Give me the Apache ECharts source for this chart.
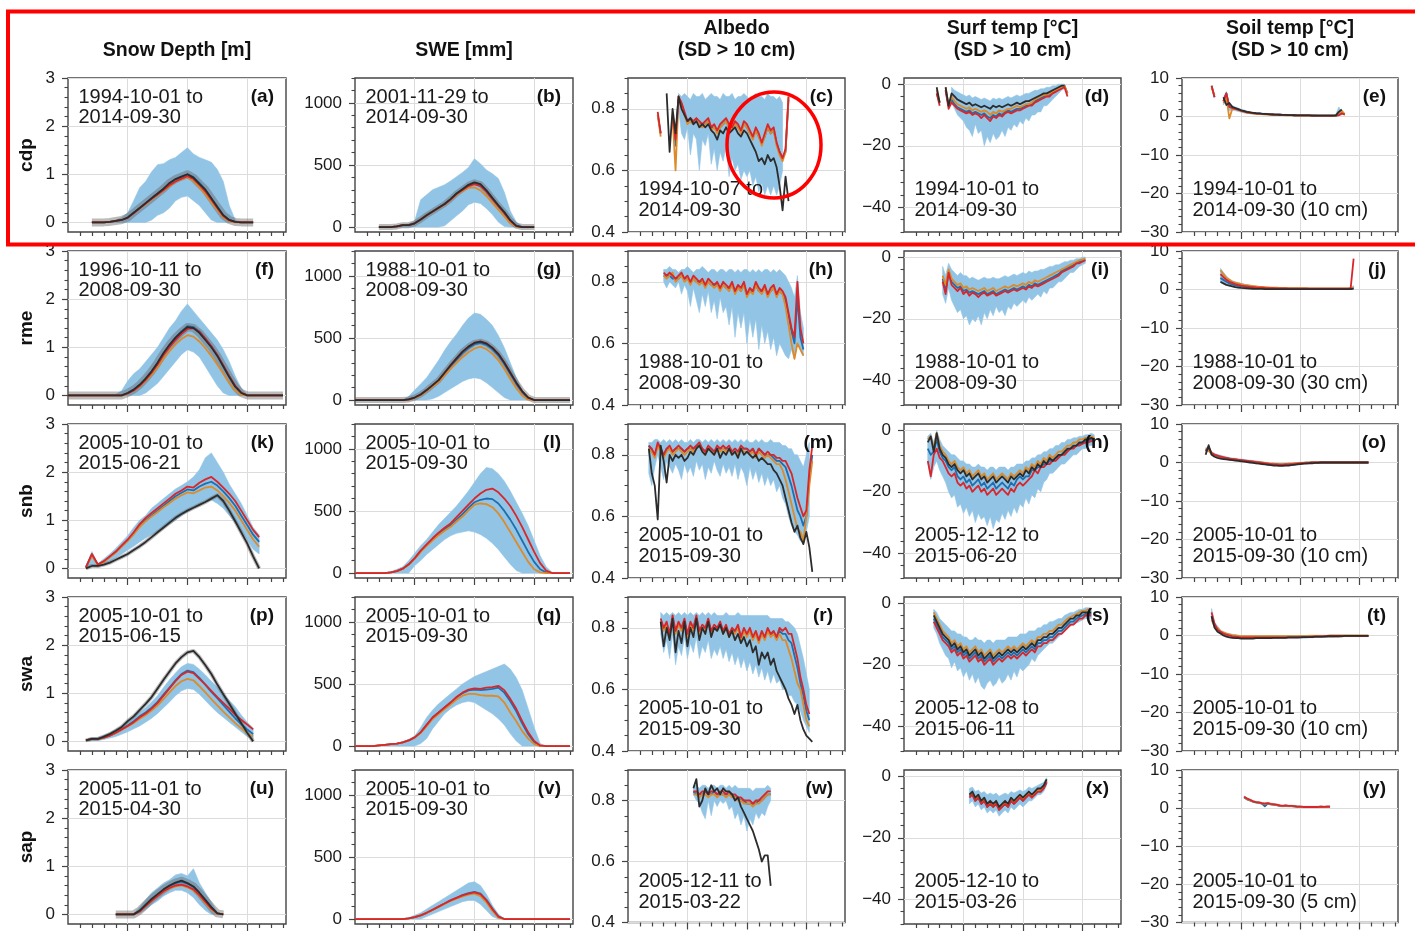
<!DOCTYPE html>
<html><head><meta charset="utf-8">
<script src="https://cdn.jsdelivr.net/npm/echarts@6/dist/echarts.min.js"></script>
<style>html,body{margin:0;padding:0;background:#fff}#c{width:1415px;height:931px}</style>
</head><body><div id="c"></div><script>
// ---------------- labels ----------------
const colTitles = ['Snow Depth [m]', 'SWE [mm]', 'Albedo\n(SD > 10 cm)', 'Surf temp [°C]\n(SD > 10 cm)', 'Soil temp [°C]\n(SD > 10 cm)'];
const sites = ['cdp', 'rme', 'snb', 'swa', 'sap'];
const letters = ['a','b','c','d','e','f','g','h','i','j','k','l','m','n','o','p','q','r','s','t','u','v','w','x','y'];
const periods = [
 '1994-10-01 to\n2014-09-30','2001-11-29 to\n2014-09-30','1994-10-07 to\n2014-09-30','1994-10-01 to\n2014-09-30','1994-10-01 to\n2014-09-30 (10 cm)',
 '1996-10-11 to\n2008-09-30','1988-10-01 to\n2008-09-30','1988-10-01 to\n2008-09-30','1988-10-01 to\n2008-09-30','1988-10-01 to\n2008-09-30 (30 cm)',
 '2005-10-01 to\n2015-06-21','2005-10-01 to\n2015-09-30','2005-10-01 to\n2015-09-30','2005-12-12 to\n2015-06-20','2005-10-01 to\n2015-09-30 (10 cm)',
 '2005-10-01 to\n2015-06-15','2005-10-01 to\n2015-09-30','2005-10-01 to\n2015-09-30','2005-12-08 to\n2015-06-11','2005-10-01 to\n2015-09-30 (10 cm)',
 '2005-11-01 to\n2015-04-30','2005-10-01 to\n2015-09-30','2005-12-11 to\n2015-03-22','2005-12-10 to\n2015-03-26','2005-10-01 to\n2015-09-30 (5 cm)'
];
// axis ticks (x = day of water year)
const xMajor = [100, 200, 300];
const xMinor = [20,40,60,80,120,140,160,180,220,240,260,280,320,340,360];
const yRange = [[-0.2, 3], [-40, 1200], [0.4, 0.9], [-48, 2], [-30, 10]];
const yMajor = [[0,1,2,3], [0,500,1000], [0.4,0.6,0.8], [-40,-20,0], [-30,-20,-10,0,10]];
const yMinor = [
 [0.2,0.4,0.6,0.8,1.2,1.4,1.6,1.8,2.2,2.4,2.6,2.8],
 [100,200,300,400,600,700,800,900,1100,1200],
 [0.45,0.5,0.55,0.65,0.7,0.75,0.85,0.9],
 [-48,-44,-36,-32,-28,-24,-16,-12,-8,-4],
 [-28,-26,-24,-22,-18,-16,-14,-12,-8,-6,-4,-2,2,4,6,8]
];

// ---------------- data: [first day, step], band lo/hi, blue, orange, red, obs ----------------
// (a) cdp snow depth
const a_x = [40, 10];
const a_lo  = [0,0,0,0,0,0,0,0,0,0,0.05,0.15,0.2,0.3,0.45,0.52,0.55,0.45,0.35,0.2,0.05,0,0,0,0,0,0,0];
const a_hi  = [0,0,0,0.02,0.05,0.1,0.2,0.45,0.72,0.85,1.05,1.2,1.22,1.3,1.35,1.45,1.55,1.42,1.35,1.3,1.25,1.1,0.85,0.35,0.05,0,0,0];
const a_blu = [0,0,0,0.01,0.03,0.05,0.1,0.2,0.3,0.4,0.5,0.6,0.7,0.8,0.89,0.95,1.0,0.94,0.82,0.68,0.5,0.33,0.15,0.05,0.01,0,0,0];
const a_org = [0,0,0,0.01,0.03,0.05,0.1,0.19,0.29,0.38,0.48,0.57,0.66,0.75,0.84,0.9,0.94,0.86,0.72,0.58,0.42,0.26,0.1,0.03,0,0,0,0];
const a_red = [0,0,0,0.01,0.03,0.05,0.1,0.19,0.29,0.39,0.49,0.58,0.67,0.77,0.85,0.91,0.96,0.9,0.78,0.64,0.47,0.3,0.13,0.04,0.01,0,0,0];
const a_obs = [0,0,0,0.01,0.03,0.05,0.1,0.2,0.3,0.4,0.5,0.6,0.7,0.82,0.9,0.95,1.0,0.93,0.8,0.68,0.5,0.32,0.15,0.05,0.01,0,0,0];
// (b) cdp SWE
const b_x = [40, 10];
const b_lo  = [0,0,0,0,0,0,0,0,0,0,0,10,50,90,130,180,200,190,150,100,40,5,0,0,0,0,0];
const b_hi  = [0,0,0,8,20,25,50,220,260,300,320,340,370,405,440,480,550,510,460,430,390,280,130,40,5,0,0];
const b_blu = [0,0,0,5,15,15,30,60,95,125,155,185,225,270,305,338,355,340,292,232,172,118,52,9,0,0,0];
const b_org = [0,0,0,5,15,15,30,60,95,124,153,180,218,260,290,315,320,295,250,195,140,85,30,5,0,0,0];
const b_red = [0,0,0,5,15,15,30,60,95,125,155,183,222,265,298,330,345,330,285,225,168,112,50,8,0,0,0];
const b_obs = [0,0,0,5,15,15,30,60,95,125,155,185,225,270,305,340,360,345,295,235,175,120,55,10,0,0,0];
// (c) cdp albedo
const c_x = [50, 5];
const c_lo  = [null,null,null,null,null,null,null,0.8,0.72,0.7,0.74,0.65,0.72,0.7,0.6,0.7,0.68,0.72,0.62,0.67,0.6,0.66,0.63,0.68,0.58,0.64,0.6,0.62,0.57,0.6,0.58,0.6,0.55,0.58,0.53,0.56,0.52,0.55,0.52,0.55,0.52,0.55,0.6,null,null,null];
const c_hi  = [null,null,null,null,null,null,null,0.85,0.84,0.85,0.84,0.83,0.85,0.84,0.84,0.85,0.83,0.84,0.85,0.84,0.84,0.83,0.85,0.84,0.84,0.85,0.83,0.84,0.84,0.85,0.84,0.83,0.84,0.85,0.84,0.84,0.83,0.85,0.84,0.84,0.83,0.84,0.82,null,null,null];
const c_blu = [0.78,0.72,null,null,null,0.77,0.68,0.83,0.81,0.78,0.76,0.76,0.75,0.76,0.75,0.75,0.75,0.76,0.74,0.74,0.73,0.74,0.75,0.76,0.74,0.74,0.75,0.74,0.73,0.75,0.74,0.72,0.71,0.73,0.71,0.69,0.71,0.74,0.72,0.73,0.69,0.66,0.64,0.66,0.83,null];
const c_org = [0.78,0.71,null,null,null,0.77,0.6,0.83,0.81,0.78,0.75,0.76,0.75,0.76,0.75,0.74,0.75,0.76,0.73,0.74,0.72,0.74,0.75,0.76,0.74,0.73,0.75,0.74,0.72,0.75,0.74,0.72,0.7,0.73,0.71,0.68,0.71,0.74,0.72,0.73,0.68,0.65,0.63,0.66,0.84,null];
const c_red = [0.79,0.72,null,null,null,0.78,0.7,0.84,0.82,0.79,0.76,0.77,0.76,0.77,0.76,0.75,0.76,0.77,0.74,0.75,0.73,0.75,0.76,0.77,0.75,0.74,0.76,0.75,0.73,0.76,0.75,0.73,0.71,0.74,0.72,0.69,0.72,0.75,0.73,0.74,0.69,0.66,0.64,0.67,0.84,null];
const c_obs = [null,null,null,0.85,0.66,0.8,0.72,0.84,0.8,0.78,0.76,0.77,0.75,0.76,0.74,0.75,0.74,0.75,0.73,0.72,0.7,0.73,0.72,0.74,0.72,0.73,0.74,0.72,0.71,0.73,0.72,0.7,0.68,0.66,0.63,0.64,0.62,0.65,0.63,0.64,0.61,0.55,0.47,0.58,0.5,null];
// (d) cdp surface temperature
const d_x = [55, 5];
const d_lo  = [null,null,null,null,null,-6,-8,-10,-11,-12,-14,-15,-17,-13,-16,-15,-20,-17,-19,-16,-18,-17,-15,-17,-14,-15,-13,-14,-12,-13,-11,-12,-10,-10,-9,-9,-7,-7,-6,-5,-4,-3,-2,-1.5,null];
const d_hi  = [null,null,null,null,null,-1,-2,-2.5,-3,-3.5,-4,-3.5,-4.5,-4,-4.5,-5,-4.5,-5,-5.5,-4.5,-5,-4.5,-5,-4.5,-4,-4.5,-4,-3.5,-4,-3.5,-3,-3,-2.5,-2,-2,-1.5,-1.5,-1,-1,-0.5,-0.5,0,0,0,null];
const d_blu = [-3,-6,null,-2,-7,-5,-6.5,-7.5,-8,-8.5,-9,-8.5,-9.5,-9,-9.5,-10,-9.5,-10.5,-11,-10,-10.5,-9.5,-10,-9,-8.5,-9,-8.5,-8,-8,-7.5,-7,-6.5,-6.5,-5.5,-5,-4.5,-4,-3.5,-3.5,-2.5,-2,-1.5,-1,-0.5,-3];
const d_org = [-2,-6,null,-1,-7,-4,-5.5,-6.5,-7,-7.5,-8,-7.5,-8.5,-8,-8.5,-9,-8.5,-9,-10,-9,-9.5,-8.5,-9,-8.5,-8,-8,-7.5,-7,-7.5,-7,-6.5,-6.5,-6,-5,-4.5,-4,-3.5,-3.5,-3,-2.5,-2,-1.5,-1,-0.5,-3];
const d_red = [-3,-7,null,-2,-8,-6,-7,-8,-8.5,-9,-9.5,-9,-10,-9.5,-10,-11,-10,-11,-12,-10.5,-11,-10,-10.5,-9.5,-9,-9.5,-9,-8.5,-8.5,-8,-7.5,-7,-7,-6,-5.5,-5,-4.5,-4,-4,-3,-2.5,-2,-1.5,-1,-4];
const d_obs = [-1,-6,null,-1,-7,-3,-4,-5,-5.5,-6,-6.5,-6,-7,-6.5,-7,-7.5,-7,-7.5,-8,-7,-7.5,-7,-7.5,-7,-6.5,-7,-6.5,-6,-6.5,-6,-5.5,-5.5,-5,-4.5,-4,-3.5,-3,-3,-2.5,-2,-1.5,-1,-0.5,-0.5,null];
// (e) cdp soil temperature
const e_x = [50, 5];
const e_lo  = [null,null,null,null,3,4,1.5,1.6,1.5,1.3,1.1,0.9,0.8,0.7,0.6,0.55,0.5,0.45,0.4,0.38,0.35,0.3,0.3,0.28,0.25,0.25,0.22,0.2,0.2,0.2,0.2,0.18,0.18,0.18,0.16,0.16,0.16,0.16,0.16,0.16,0.16,0.16,0.2,0.3,0.4,null];
const e_hi  = [null,null,null,null,5,6.5,3,2.8,2.5,2.2,1.9,1.7,1.4,1.3,1.1,1,0.95,0.9,0.85,0.8,0.75,0.7,0.65,0.6,0.55,0.55,0.5,0.48,0.45,0.45,0.42,0.4,0.4,0.38,0.36,0.36,0.36,0.36,0.36,0.36,0.36,0.36,0.6,2.5,1.2,null];
const e_blu = [8,5,null,null,4,6,2.5,2.3,2.1,1.8,1.5,1.3,1.1,1,0.9,0.82,0.76,0.7,0.66,0.6,0.56,0.52,0.5,0.46,0.42,0.4,0.36,0.35,0.32,0.3,0.3,0.3,0.28,0.28,0.26,0.26,0.25,0.25,0.25,0.25,0.25,0.25,0.26,0.4,0.9,0.5];
const e_org = [7.5,5.5,null,null,3.5,5,-0.5,2,1.9,1.7,1.4,1.2,1,0.9,0.8,0.7,0.65,0.6,0.55,0.5,0.45,0.42,0.4,0.38,0.35,0.33,0.3,0.3,0.28,0.27,0.26,0.25,0.24,0.23,0.22,0.22,0.22,0.22,0.22,0.22,0.22,0.22,0.3,0.5,1.5,0.6];
const e_red = [8,5,null,null,4,6,2.5,2.2,2,1.8,1.5,1.3,1.1,1,0.9,0.8,0.75,0.7,0.65,0.6,0.55,0.5,0.5,0.45,0.4,0.4,0.35,0.35,0.3,0.3,0.3,0.3,0.28,0.28,0.25,0.25,0.25,0.25,0.25,0.25,0.25,0.25,0.25,0.3,0.8,0.5];
const e_obs = [null,null,null,null,5,3,3.5,2.5,2.2,1.9,1.6,1.4,1.2,1.05,0.95,0.85,0.8,0.72,0.68,0.62,0.57,0.52,0.5,0.46,0.42,0.4,0.37,0.35,0.32,0.3,0.3,0.3,0.28,0.27,0.25,0.25,0.24,0.24,0.24,0.24,0.24,0.25,0.3,1.2,1.8,null];
// (f) rme snow depth
const f_x = [0, 10];
const f_lo  = [0,0,0,0,0,0,0,0,0,0,0,0,0,0.05,0.15,0.25,0.4,0.55,0.7,0.85,0.95,0.9,0.8,0.6,0.4,0.2,0.05,0,0,0,0,0,0,0,0,0,0];
const f_hi  = [0,0,0,0,0,0,0,0,0.02,0.1,0.3,0.45,0.55,0.7,0.85,1.0,1.2,1.4,1.55,1.75,1.9,1.75,1.6,1.45,1.3,1.15,0.95,0.7,0.4,0.15,0.02,0,0,0,0,0,0];
const f_blu = [0,0,0,0,0,0,0,0,0,0,0.05,0.12,0.22,0.35,0.5,0.68,0.88,1.05,1.2,1.33,1.44,1.42,1.33,1.18,1.02,0.84,0.62,0.4,0.19,0.05,0,0,0,0,0,0,0];
const f_org = [0,0,0,0,0,0,0,0,0,0,0.04,0.1,0.18,0.3,0.43,0.58,0.76,0.92,1.06,1.17,1.25,1.22,1.12,0.98,0.82,0.64,0.45,0.26,0.1,0.02,0,0,0,0,0,0,0];
const f_red = [0,0,0,0,0,0,0,0,0,0,0.04,0.1,0.2,0.32,0.47,0.64,0.84,1.0,1.15,1.28,1.38,1.4,1.32,1.18,1.02,0.84,0.62,0.4,0.2,0.06,0,0,0,0,0,0,0];
const f_obs = [0,0,0,0,0,0,0,0,0,0,0.05,0.12,0.22,0.35,0.5,0.68,0.88,1.05,1.2,1.32,1.42,1.4,1.3,1.15,1.0,0.82,0.6,0.38,0.18,0.05,0,0,0,0,0,0,0];
// (g) rme SWE
const g_x = [0, 10];
const g_lo  = [0,0,0,0,0,0,0,0,0,0,0,0,0,10,30,60,90,120,150,170,180,170,140,100,60,20,0,0,0,0,0,0,0,0,0,0,0];
const g_hi  = [0,0,0,0,0,0,0,0,0,30,80,130,180,250,320,400,470,530,600,660,700,690,650,600,520,420,300,180,80,20,0,0,0,0,0,0,0];
const g_blu = [0,0,0,0,0,0,0,0,0,5,18,42,75,115,155,212,270,325,378,418,450,460,445,410,360,292,212,132,64,16,0,0,0,0,0,0,0];
const g_org = [0,0,0,0,0,0,0,0,0,4,16,38,70,108,145,198,250,300,345,385,415,430,410,372,320,250,170,95,35,5,0,0,0,0,0,0,0];
const g_red = [0,0,0,0,0,0,0,0,0,5,20,45,80,120,160,220,280,335,388,430,462,472,458,422,372,302,222,140,70,20,0,0,0,0,0,0,0];
const g_obs = [0,0,0,0,0,0,0,0,0,5,20,45,80,120,160,220,280,335,390,430,460,470,455,420,370,300,220,140,70,20,0,0,0,0,0,0,0];
// (h) rme albedo
const h_x = [60, 5];
const h_lo  = [0.8,0.78,0.8,0.79,0.78,0.8,0.76,0.79,0.77,0.72,0.78,0.74,0.7,0.76,0.72,0.77,0.7,0.74,0.68,0.75,0.7,0.72,0.66,0.72,0.62,0.7,0.65,0.7,0.6,0.68,0.62,0.68,0.58,0.66,0.6,0.64,0.58,0.62,0.56,0.6,0.58,0.56,0.55,0.58,0.55,0.6,0.58,0.56];
const h_hi  = [0.84,0.84,0.85,0.84,0.84,0.83,0.84,0.84,0.85,0.84,0.83,0.84,0.84,0.85,0.84,0.83,0.84,0.84,0.83,0.84,0.84,0.83,0.84,0.84,0.83,0.84,0.83,0.84,0.84,0.83,0.84,0.83,0.84,0.83,0.84,0.84,0.83,0.84,0.83,0.84,0.83,0.82,0.8,0.78,0.75,0.82,0.7,0.65];
const h_blu = [0.82,0.82,0.82,0.81,0.81,0.81,0.82,0.81,0.81,0.8,0.81,0.8,0.8,0.8,0.79,0.8,0.79,0.79,0.79,0.78,0.79,0.78,0.78,0.79,0.77,0.78,0.77,0.79,0.76,0.77,0.77,0.79,0.77,0.77,0.78,0.76,0.77,0.78,0.76,0.77,0.76,0.74,0.69,0.64,0.6,0.75,0.62,0.58];
const h_org = [0.82,0.81,0.82,0.83,0.8,0.81,0.82,0.8,0.81,0.79,0.81,0.8,0.79,0.8,0.78,0.8,0.79,0.78,0.79,0.77,0.79,0.78,0.77,0.79,0.76,0.78,0.77,0.79,0.75,0.77,0.76,0.79,0.77,0.76,0.78,0.75,0.77,0.78,0.75,0.77,0.76,0.72,0.66,0.6,0.55,0.6,0.58,0.56];
const h_red = [0.83,0.82,0.83,0.82,0.81,0.82,0.83,0.81,0.82,0.8,0.82,0.81,0.8,0.81,0.79,0.81,0.8,0.79,0.8,0.78,0.8,0.79,0.78,0.8,0.77,0.79,0.78,0.8,0.76,0.78,0.77,0.8,0.78,0.77,0.79,0.76,0.78,0.79,0.76,0.78,0.77,0.75,0.7,0.65,0.62,0.8,0.65,0.6];
// (i) rme surface temperature
const i_x = [65, 5];
const i_lo  = [-12,-15,-10,-14,-16,-18,-17,-20,-19,-22,-20,-21,-19,-22,-18,-20,-17,-19,-16,-18,-17,-19,-16,-17,-15,-16,-15,-14,-15,-13,-14,-13,-12,-13,-11,-12,-10,-10,-9,-8,-8,-7,-6,-5,-5,-4,-3,-2.5,-2];
const i_hi  = [-3,-6,-2,-4,-5,-6,-5,-6,-6,-7,-6.5,-7,-7.5,-7,-6.5,-7,-7,-6.5,-7,-7,-6.5,-6,-6.5,-6,-5.5,-6,-5.5,-5,-5.5,-4.5,-5,-4.5,-4.5,-4,-4,-3.5,-3,-3,-2.5,-2.5,-2,-1.5,-1.5,-1,-1,-0.5,-0.5,0,0];
const i_blu = [-7,-11,-5,-8,-9,-10,-9.5,-11,-10.5,-11.5,-11,-11.5,-12,-11.5,-11,-12,-11.5,-11,-12,-11.5,-11,-10.5,-11,-10.5,-10,-10.5,-10,-9.5,-10,-9,-9.5,-8.5,-9,-8.5,-8,-7.5,-7,-6.5,-6,-5.5,-4.5,-4,-3.5,-3,-2.5,-2,-1.5,-1.2,-1];
const i_org = [-6,-9,-4,-7,-8,-9,-8.5,-10,-9.5,-10.5,-10,-10.5,-11,-10.5,-10,-11,-10.5,-10,-11,-10.5,-10,-9.5,-10,-9.5,-9,-9.5,-9,-8.5,-9,-8,-8.5,-7.5,-8,-7.5,-7,-6.5,-6,-5.5,-5,-4.5,-4,-3.5,-3,-2.5,-2,-1.5,-1,-0.8,-0.5];
const i_red = [-8,-12,-5,-9,-10,-11,-10,-12,-11,-12.5,-11.5,-12,-13,-12,-11.5,-12.5,-12,-11.5,-12.5,-12,-11.5,-11,-11.5,-11,-10.5,-11,-10.5,-10,-10.5,-9.5,-10,-9,-9.5,-9,-8.5,-8,-7.5,-7,-6.5,-6,-5,-4.5,-4,-3.5,-3,-2,-2,-1.5,-1];
// (j) rme soil temperature (30 cm)
const j_x = [65, 5];
const j_lo  = [1.8,1.4,1.1,0.9,0.7,0.55,0.45,0.38,0.32,0.28,0.24,0.2,0.18,0.15,0.14,0.12,0.11,0.1,0.1,0.1,0.1,0.1,0.1,0.1,0.1,0.1,0.1,0.1,0.1,0.1,0.1,0.1,0.1,0.1,0.1,0.1,0.1,0.1,0.1,0.1,0.1,0.1,0.1,0.1,0.1,0.2];
const j_hi  = [5.5,4.5,3.5,2.8,2.3,2,1.8,1.6,1.4,1.2,1.1,1,0.9,0.8,0.72,0.66,0.6,0.55,0.52,0.48,0.45,0.43,0.42,0.4,0.38,0.37,0.36,0.35,0.34,0.34,0.33,0.33,0.33,0.33,0.33,0.33,0.33,0.33,0.33,0.33,0.33,0.33,0.33,0.33,0.5,1];
const j_blu = [3,2.5,2,1.6,1.3,1.1,0.95,0.85,0.75,0.65,0.58,0.52,0.46,0.42,0.38,0.35,0.32,0.3,0.28,0.26,0.25,0.24,0.23,0.22,0.21,0.2,0.2,0.2,0.19,0.19,0.18,0.18,0.18,0.18,0.18,0.18,0.18,0.18,0.18,0.18,0.18,0.18,0.18,0.18,0.2,0.3];
const j_org = [5,4,3,2.5,2,1.8,1.6,1.4,1.2,1.1,1,0.9,0.8,0.7,0.65,0.6,0.55,0.5,0.48,0.45,0.42,0.4,0.4,0.38,0.36,0.35,0.34,0.33,0.32,0.32,0.31,0.3,0.3,0.3,0.3,0.3,0.3,0.3,0.3,0.3,0.3,0.3,0.3,0.3,0.4,0.5];
const j_red = [4,3.2,2.5,2,1.7,1.4,1.2,1,0.9,0.8,0.7,0.62,0.55,0.5,0.45,0.4,0.38,0.35,0.32,0.3,0.28,0.27,0.26,0.25,0.24,0.23,0.22,0.22,0.21,0.2,0.2,0.2,0.2,0.2,0.2,0.2,0.2,0.2,0.2,0.2,0.2,0.2,0.2,0.2,0.3,8];
const j_obs = [2,1.6,1.2,1,0.8,0.6,0.5,0.4,0.35,0.3,0.25,0.2,0.18,0.15,0.14,0.12,0.11,0.1,0.1,0.1,0.1,0.1,0.1,0.1,0.1,0.1,0.1,0.1,0.1,0.1,0.1,0.1,0.1,0.1,0.1,0.1,0.1,0.1,0.1,0.1,0.1,0.1,0.1,0.1,0.1,0.2];
// (k) snb snow depth
const k_x = [30, 10];
const k_lo  = [0,0.05,0.03,0.08,0.15,0.22,0.3,0.38,0.46,0.55,0.63,0.7,0.77,0.84,0.92,1.0,1.1,1.18,1.25,1.32,1.38,1.42,1.35,1.25,1.1,0.95,0.8,0.6,0.4,0.3];
const k_hi  = [0.05,0.35,0.1,0.2,0.3,0.42,0.55,0.68,0.85,1.0,1.1,1.25,1.35,1.45,1.55,1.65,1.72,1.8,1.9,2.05,2.3,2.4,2.2,2.0,1.75,1.55,1.35,1.1,0.85,0.7];
const k_blu = [0.02,0.28,0.08,0.14,0.24,0.34,0.46,0.58,0.72,0.88,1.0,1.1,1.2,1.3,1.4,1.5,1.57,1.64,1.62,1.7,1.76,1.8,1.72,1.6,1.46,1.3,1.1,0.9,0.7,0.55];
const k_org = [0.02,0.26,0.07,0.13,0.23,0.33,0.45,0.57,0.71,0.86,0.98,1.08,1.17,1.27,1.36,1.45,1.52,1.58,1.56,1.62,1.68,1.7,1.62,1.5,1.36,1.2,1.0,0.8,0.6,0.45];
const k_red = [0.02,0.3,0.08,0.15,0.25,0.35,0.48,0.6,0.75,0.92,1.05,1.15,1.25,1.35,1.45,1.55,1.62,1.7,1.68,1.78,1.85,1.9,1.8,1.68,1.55,1.4,1.2,1.0,0.8,0.65];
const k_obs = [0,0.05,0.05,0.08,0.12,0.18,0.24,0.3,0.38,0.46,0.55,0.65,0.75,0.85,0.95,1.05,1.13,1.2,1.26,1.32,1.38,1.45,1.52,1.4,1.2,0.98,0.75,0.52,0.25,0];
// (l) snb SWE
const l_x = [0, 10];
const l_lo  = [0,0,0,0,0,0,0,0,0,0,60,100,150,190,230,270,300,320,330,340,330,310,280,240,190,130,70,20,0,0,0,0,0,0,0,0,0];
const l_hi  = [0,0,0,0,0,0,10,30,50,100,160,220,270,330,390,440,490,540,600,660,730,800,850,840,800,740,660,570,480,380,260,140,50,5,0,0,0];
const l_blu = [0,0,0,0,0,0,5,15,35,70,118,176,225,272,315,352,385,430,475,525,570,590,600,595,560,500,430,350,260,170,90,30,5,0,0,0,0];
const l_org = [0,0,0,0,0,0,5,15,34,68,115,170,218,264,305,340,372,415,455,505,550,560,555,530,480,410,330,250,170,90,30,5,0,0,0,0,0];
const l_red = [0,0,0,0,0,0,5,15,35,70,120,180,230,280,325,365,400,450,500,550,600,640,670,680,650,600,540,460,370,270,170,80,20,0,0,0,0];
// (m) snb albedo
const m_x = [35, 5];
const m_lo  = [0.74,0.7,0.76,0.8,0.76,0.72,0.78,0.76,0.74,0.77,0.75,0.72,0.77,0.74,0.76,0.73,0.78,0.75,0.77,0.72,0.76,0.74,0.78,0.75,0.73,0.77,0.74,0.76,0.73,0.77,0.72,0.76,0.74,0.7,0.76,0.72,0.75,0.71,0.74,0.7,0.73,0.7,0.72,0.68,0.7,0.66,0.64,0.6,0.57,0.55,0.54,0.52,0.52,0.55,0.6,null];
const m_hi  = [0.84,0.84,0.85,0.85,0.84,0.85,0.84,0.85,0.84,0.85,0.84,0.85,0.84,0.84,0.85,0.84,0.85,0.85,0.84,0.85,0.84,0.85,0.84,0.85,0.84,0.85,0.84,0.85,0.84,0.85,0.84,0.85,0.84,0.85,0.84,0.84,0.85,0.84,0.85,0.84,0.84,0.85,0.84,0.84,0.84,0.83,0.83,0.82,0.82,0.8,0.8,0.78,0.76,0.8,0.84,null];
const m_blu = [0.83,0.81,0.8,0.83,0.82,0.8,0.82,0.82,0.81,0.82,0.82,0.82,0.81,0.82,0.82,0.82,0.83,0.83,0.82,0.81,0.82,0.82,0.81,0.82,0.82,0.82,0.82,0.82,0.81,0.82,0.81,0.82,0.82,0.82,0.81,0.82,0.8,0.82,0.81,0.8,0.8,0.8,0.79,0.78,0.78,0.77,0.76,0.73,0.7,0.66,0.62,0.6,0.57,0.6,0.72,0.8];
const m_org = [0.82,0.81,0.79,0.83,0.81,0.79,0.81,0.82,0.8,0.81,0.82,0.81,0.8,0.81,0.82,0.81,0.82,0.83,0.81,0.8,0.82,0.81,0.8,0.82,0.81,0.82,0.81,0.82,0.8,0.81,0.8,0.82,0.81,0.81,0.8,0.81,0.79,0.81,0.8,0.79,0.8,0.79,0.78,0.77,0.77,0.75,0.72,0.68,0.64,0.6,0.56,0.55,0.52,0.6,0.7,0.78];
const m_red = [0.83,0.82,0.8,0.84,0.82,0.8,0.82,0.83,0.81,0.82,0.83,0.82,0.81,0.82,0.83,0.82,0.83,0.84,0.82,0.81,0.83,0.82,0.81,0.83,0.82,0.83,0.82,0.83,0.81,0.82,0.81,0.83,0.82,0.82,0.81,0.82,0.8,0.82,0.81,0.8,0.81,0.8,0.8,0.79,0.79,0.78,0.78,0.76,0.74,0.7,0.66,0.63,0.6,0.62,0.75,0.83];
const m_obs = [0.82,0.74,0.7,0.59,0.83,0.78,0.71,0.8,0.78,0.8,0.79,0.8,0.78,0.79,0.81,0.8,0.82,0.83,0.81,0.8,0.82,0.81,0.8,0.82,0.79,0.81,0.8,0.82,0.8,0.81,0.79,0.82,0.8,0.81,0.8,0.79,0.8,0.78,0.79,0.78,0.77,0.77,0.75,0.74,0.72,0.7,0.66,0.62,0.58,0.55,0.57,0.53,0.51,0.55,0.5,0.42];
// (n) snb surface temperature
const n_x = [40, 5];
const n_lo  = [-10,-16,-12,-10,-13,-15,-17,-20,-22,-21,-25,-24,-27,-25,-28,-26,-30,-27,-29,-28,-31,-28,-32,-29,-30,-27,-29,-26,-28,-25,-27,-24,-25,-22,-24,-21,-22,-19,-20,-17,-16,-14,-14,-13,-12,-11,-11,-10,-9,-8,-8,-7,-6,-6,-5,-5,-5];
const n_hi  = [-2,-1,-4,0,-3,-5,-6,-7,-8,-8,-9,-10,-10,-11,-11,-12,-12,-11,-12,-12,-13,-12,-12,-13,-12,-12,-12,-13,-12,-12,-11,-11,-11,-10,-10,-9,-9,-8,-8,-7,-7,-6,-6,-5,-5,-4,-4,-3,-3,-2.5,-2.5,-2,-2,-1.5,-1.5,-1,-1.5];
const n_blu = [-6,-8,-7,-3,-7,-9,-10,-12,-13,-12,-15,-16,-15,-17,-16,-18,-17,-16,-18,-17,-19,-18,-17,-19,-18,-17,-18,-19,-17,-18,-16,-15,-16,-15,-15,-13,-13,-12,-12,-11,-11,-10,-10,-9,-8.5,-8,-7.5,-6.5,-6,-5.5,-5,-4.5,-4,-3.5,-3.5,-3,-3.5];
const n_org = [-3,-2,-6,-1,-5,-7,-8,-10,-11,-10,-12,-13,-12,-14,-13,-15,-14,-13,-15,-14,-16,-15,-14,-16,-15,-14,-15,-16,-14,-15,-14,-13,-14,-12,-13,-11,-12,-10,-11,-9,-10,-8,-9,-8,-7,-7,-6,-5,-5,-4,-4,-3,-3,-2.5,-2.5,-2,-2.5];
const n_red = [-10,-15,-8,-6,-9,-10,-12,-14,-15,-14,-17,-18,-17,-19,-18,-20,-19,-18,-20,-19,-21,-20,-19,-21,-20,-19,-20,-21,-19,-20,-18,-17,-18,-17,-16,-15,-13,-14,-12,-12,-11,-11,-10,-10,-9,-8,-8,-7,-6,-6,-5,-5,-4.5,-4,-4,-3.5,-4];
const n_obs = [-4,-2,-7,-1,-6,-8,-9,-11,-12,-11,-13,-14,-13,-15,-14,-16,-15,-14,-16,-15,-17,-16,-15,-17,-16,-15,-16,-17,-15,-16,-15,-14,-15,-13,-14,-12,-13,-11,-12,-10,-11,-9,-10,-9,-8,-8,-7,-6,-6,-5,-5,-4,-4,-3,-3,-2.5,-3];
// (o) snb soil temperature (10 cm)
const o_x = [40, 5];
const o_lo  = [2.5,3,2,1.6,1.4,1.2,1,0.9,0.7,0.6,0.5,0.4,0.3,0.2,0.1,0,-0.1,-0.2,-0.3,-0.4,-0.5,-0.6,-0.7,-0.8,-0.8,-0.9,-0.9,-0.8,-0.8,-0.7,-0.6,-0.5,-0.4,-0.4,-0.3,-0.3,-0.2,-0.2,-0.2,-0.2,-0.2,-0.2,-0.2,-0.2,-0.2,-0.2,-0.2,-0.2,-0.2,-0.2,-0.2,-0.2,-0.2,-0.2,-0.2,-0.2];
const o_hi  = [3.8,4.2,2.8,2.4,2.1,1.9,1.7,1.5,1.3,1.2,1.1,1,0.9,0.8,0.7,0.6,0.5,0.4,0.3,0.2,0.1,0,-0.1,-0.1,-0.2,-0.2,-0.2,-0.2,-0.1,-0.1,0,0,0.1,0.1,0.2,0.2,0.2,0.2,0.2,0.2,0.2,0.2,0.2,0.2,0.2,0.2,0.2,0.2,0.2,0.2,0.2,0.2,0.2,0.2,0.2,0.2];
const o_blu = [3,3.5,2.3,2,1.7,1.5,1.3,1.1,1,0.9,0.8,0.7,0.6,0.5,0.4,0.3,0.2,0.1,0,-0.1,-0.2,-0.3,-0.4,-0.4,-0.5,-0.5,-0.5,-0.5,-0.4,-0.4,-0.3,-0.3,-0.2,-0.2,-0.1,-0.1,0,0,0,0,0,0,0,0,0,0,0,0,0,0,0,0,0,0,0,0];
const o_org = [3.5,3,2.2,1.9,1.7,1.5,1.3,1.1,1,0.9,0.8,0.7,0.6,0.5,0.4,0.3,0.25,0.2,0.1,0,-0.1,-0.2,-0.3,-0.3,-0.4,-0.4,-0.4,-0.4,-0.3,-0.3,-0.2,-0.2,-0.1,-0.1,0,0,0,0,0,0,0,0,0,0,0,0,0,0,0,0,0,0,0,0,0,0];
const o_red = [3,4,2.5,2,1.8,1.5,1.3,1.2,1,0.9,0.8,0.7,0.6,0.5,0.4,0.3,0.2,0.1,0,-0.1,-0.2,-0.3,-0.4,-0.5,-0.5,-0.6,-0.6,-0.5,-0.5,-0.4,-0.4,-0.3,-0.2,-0.2,-0.1,-0.1,0,0,0,0,0,0,0,0,0,0,0,0,0,0,0,0,0,0,0,0];
const o_obs = [2,4.5,2,1.5,1.2,1,0.9,0.8,0.7,0.6,0.5,0.4,0.3,0.2,0.1,0,-0.1,-0.2,-0.3,-0.4,-0.5,-0.6,-0.7,-0.8,-0.8,-0.9,-0.9,-0.8,-0.8,-0.7,-0.6,-0.5,-0.4,-0.3,-0.3,-0.2,-0.2,-0.1,-0.1,0,0,0,0,0,0,0,0,0,0,0,0,0,0,0,0,0];
// (p) swa snow depth
const p_x = [30, 10];
const p_lo  = [0,0.02,0.02,0.04,0.07,0.1,0.15,0.2,0.26,0.32,0.4,0.48,0.58,0.7,0.82,0.95,1.05,1.1,1.08,0.98,0.85,0.72,0.6,0.5,0.4,0.3,0.2,0.1,0.05];
const p_hi  = [0.03,0.08,0.08,0.12,0.18,0.25,0.32,0.42,0.5,0.6,0.7,0.82,0.95,1.12,1.28,1.42,1.55,1.62,1.6,1.5,1.38,1.25,1.12,0.98,0.85,0.72,0.55,0.4,0.28];
const p_blu = [0.02,0.05,0.05,0.08,0.12,0.18,0.25,0.33,0.42,0.52,0.6,0.7,0.82,0.97,1.12,1.27,1.4,1.47,1.44,1.32,1.18,1.03,0.9,0.76,0.62,0.48,0.36,0.25,0.15];
const p_org = [0.02,0.05,0.05,0.08,0.12,0.17,0.24,0.31,0.38,0.47,0.55,0.64,0.75,0.88,1.02,1.15,1.25,1.3,1.27,1.15,1.02,0.88,0.75,0.62,0.5,0.38,0.27,0.17,0.1];
const p_red = [0.02,0.05,0.05,0.08,0.12,0.18,0.25,0.32,0.4,0.5,0.58,0.68,0.8,0.95,1.1,1.25,1.38,1.45,1.42,1.3,1.18,1.05,0.92,0.8,0.68,0.55,0.45,0.35,0.25];
const p_obs = [0.02,0.05,0.05,0.1,0.15,0.22,0.3,0.42,0.52,0.65,0.78,0.92,1.1,1.28,1.45,1.62,1.75,1.85,1.88,1.75,1.58,1.4,1.18,0.98,0.78,0.58,0.38,0.18,0];
// (q) swa SWE
const q_x = [0, 10];
const q_lo  = [0,0,0,0,0,0,0,0,0,0,0,20,60,140,200,260,300,330,350,360,350,320,290,260,220,170,100,40,0,0,0,0,0,0,0,0,0];
const q_hi  = [0,0,0,0,5,10,15,20,35,55,80,150,230,290,340,380,420,460,500,530,560,580,600,620,640,660,620,550,450,300,150,20,0,0,0,0,0];
const q_blu = [0,0,0,0,5,10,15,20,30,45,70,110,170,230,270,310,350,392,425,448,455,450,455,460,470,430,360,280,180,95,30,0,0,0,0,0,0];
const q_org = [0,0,0,0,5,10,15,20,30,45,68,105,160,218,258,298,335,375,405,420,420,410,405,405,400,350,270,200,120,60,15,0,0,0,0,0,0];
const q_red = [0,0,0,0,5,10,15,20,30,45,70,110,170,230,270,310,350,395,430,455,465,460,470,475,485,450,380,300,200,110,40,5,0,0,0,0,0];
// (r) swa albedo
const r_x = [55, 5];
const r_lo  = [0.78,0.72,0.76,0.7,0.78,0.68,0.74,0.71,0.77,0.7,0.75,0.72,0.77,0.7,0.74,0.72,0.76,0.7,0.73,0.71,0.74,0.7,0.73,0.69,0.72,0.68,0.71,0.67,0.7,0.66,0.69,0.65,0.68,0.64,0.67,0.63,0.66,0.62,0.65,0.62,0.63,0.6,0.6,0.58,0.58,0.56,0.55,0.53,0.5,0.48,0.46,null];
const r_hi  = [0.85,0.84,0.85,0.84,0.85,0.84,0.85,0.84,0.85,0.84,0.85,0.84,0.85,0.84,0.85,0.84,0.85,0.84,0.85,0.84,0.84,0.84,0.85,0.84,0.84,0.84,0.85,0.84,0.84,0.84,0.84,0.84,0.84,0.84,0.84,0.84,0.84,0.83,0.83,0.83,0.83,0.83,0.82,0.82,0.81,0.8,0.78,0.74,0.7,0.65,0.6,null];
const r_blu = [0.82,0.8,0.81,0.78,0.83,0.79,0.81,0.8,0.82,0.78,0.81,0.8,0.83,0.79,0.8,0.8,0.82,0.79,0.8,0.8,0.81,0.79,0.8,0.78,0.79,0.79,0.8,0.77,0.79,0.78,0.79,0.77,0.78,0.76,0.78,0.77,0.79,0.78,0.78,0.77,0.79,0.78,0.78,0.76,0.75,0.71,0.67,0.62,0.58,0.53,0.5,null];
const r_org = [0.82,0.79,0.81,0.77,0.83,0.78,0.81,0.79,0.82,0.77,0.81,0.79,0.83,0.78,0.8,0.79,0.82,0.78,0.8,0.79,0.81,0.78,0.8,0.77,0.79,0.78,0.8,0.76,0.79,0.77,0.79,0.76,0.78,0.75,0.78,0.76,0.79,0.77,0.78,0.76,0.78,0.76,0.76,0.73,0.7,0.66,0.62,0.6,0.55,0.5,0.48,null];
const r_red = [0.83,0.8,0.82,0.78,0.84,0.79,0.82,0.8,0.83,0.78,0.82,0.8,0.84,0.79,0.81,0.8,0.83,0.79,0.81,0.8,0.82,0.79,0.81,0.78,0.8,0.79,0.81,0.77,0.8,0.78,0.8,0.77,0.79,0.76,0.79,0.77,0.8,0.78,0.79,0.77,0.8,0.79,0.8,0.78,0.78,0.74,0.7,0.64,0.6,0.55,0.52,null];
const r_obs = [0.82,0.74,0.8,0.76,0.83,0.72,0.79,0.75,0.82,0.74,0.8,0.77,0.83,0.76,0.8,0.78,0.82,0.77,0.8,0.79,0.81,0.78,0.8,0.77,0.79,0.76,0.78,0.75,0.77,0.74,0.76,0.72,0.74,0.68,0.72,0.7,0.72,0.68,0.7,0.66,0.64,0.62,0.6,0.57,0.55,0.52,0.55,0.5,0.47,0.45,0.44,0.43];
// (s) swa surface temperature
const s_x = [50, 5];
const s_lo  = [-8,-10,-13,-15,-17,-18,-21,-19,-22,-21,-24,-22,-25,-23,-26,-24,-27,-28,-26,-25,-27,-26,-24,-26,-25,-23,-25,-22,-24,-21,-22,-21,-20,-18,-19,-17,-16,-15,-14,-13,-13,-12,-11,-10,-9,-8,-7.5,-7,-6.5,-6,-5.5,-5,-5,-5];
const s_hi  = [-2,-3,-5,-6,-7,-8,-9,-9,-10,-10,-11,-11,-12,-12,-11,-12,-12,-13,-12,-12,-13,-12,-12,-12,-12,-11,-11,-11,-11,-10,-10,-10,-9,-9,-9,-8,-8,-7,-7,-6,-6,-5.5,-5,-5,-4,-3.5,-3,-3,-2.5,-2,-2,-1.5,-1.5,-1.5];
const s_blu = [-5,-7,-9,-11,-12,-13,-15,-14,-16,-15,-17,-16,-18,-17,-16,-18,-17,-19,-18,-17,-19,-18,-17,-18,-17,-16,-17,-16,-17,-16,-15,-16,-15,-14,-15,-13,-13,-12,-12,-11,-11,-10,-9,-9,-8,-7,-6,-6,-5,-4.5,-4,-3.5,-3.5,-3.5];
const s_org = [-3,-5,-7,-9,-10,-11,-13,-12,-14,-13,-15,-14,-16,-15,-14,-16,-15,-17,-16,-15,-17,-16,-15,-16,-15,-14,-15,-14,-15,-14,-13,-14,-13,-12,-13,-11,-11,-10,-10,-9,-9,-8,-7,-7,-6,-5,-4.5,-4,-3.5,-3,-2.5,-2.5,-2,-2];
const s_red = [-6,-8,-10,-12,-13,-14,-16,-15,-17,-16,-18,-17,-19,-18,-17,-19,-18,-20,-19,-18,-20,-19,-18,-19,-18,-17,-18,-17,-18,-17,-16,-17,-16,-15,-16,-14,-14,-13,-13,-12,-12,-11,-10,-10,-9,-8,-7,-7,-6,-5,-5,-4,-4,-4];
const s_obs = [-4,-6,-8,-10,-11,-12,-14,-13,-15,-14,-16,-15,-17,-16,-15,-17,-16,-18,-17,-16,-18,-17,-16,-17,-16,-15,-16,-15,-16,-15,-14,-15,-14,-13,-14,-12,-12,-11,-11,-10,-10,-9,-8,-8,-7,-6,-5,-5,-4,-4,-3,-3,-3,-3];
// (t) swa soil temperature (10 cm)
const t_x = [50, 5];
const t_lo  = [4,2,1,0.5,0.2,-0.1,-0.4,-0.5,-0.6,-0.7,-0.8,-0.8,-0.8,-0.8,-0.8,-0.8,-0.8,-0.8,-0.8,-0.8,-0.8,-0.8,-0.8,-0.8,-0.8,-0.8,-0.8,-0.8,-0.8,-0.8,-0.7,-0.7,-0.7,-0.6,-0.6,-0.5,-0.5,-0.5,-0.4,-0.4,-0.4,-0.4,-0.3,-0.3,-0.3,-0.3,-0.3,-0.3,-0.3,-0.3,-0.3,-0.3,-0.3,-0.3];
const t_hi  = [7,3.5,2.5,1.5,1,0.7,0.5,0.3,0.2,0.1,0,0,0,0,0,0,0,0,0,0,0,0,0,0,0,0,0,0,0,0,0,0,0,0.1,0.1,0.1,0.1,0.1,0.1,0.1,0.1,0.1,0.1,0.1,0.1,0.1,0.1,0.1,0.1,0.1,0.1,0.1,0.1,0.1];
const t_blu = [5,2.8,1.6,1,0.6,0.3,0.1,-0.1,-0.2,-0.3,-0.4,-0.4,-0.4,-0.4,-0.4,-0.4,-0.4,-0.4,-0.4,-0.4,-0.4,-0.4,-0.4,-0.4,-0.4,-0.4,-0.4,-0.4,-0.4,-0.4,-0.3,-0.3,-0.3,-0.3,-0.3,-0.2,-0.2,-0.2,-0.2,-0.2,-0.1,-0.1,-0.1,-0.1,-0.1,-0.1,-0.1,-0.1,-0.1,-0.1,-0.1,-0.1,-0.1,-0.1];
const t_org = [4,2.5,2,1,0.8,0.5,0.3,0.1,0,-0.1,-0.2,-0.2,-0.2,-0.2,-0.2,-0.2,-0.2,-0.2,-0.2,-0.2,-0.2,-0.2,-0.2,-0.2,-0.2,-0.2,-0.2,-0.2,-0.2,-0.2,-0.2,-0.2,-0.2,-0.1,-0.1,-0.1,-0.1,-0.1,-0.1,-0.1,0,0,0,0,0,0,0,0,0,0,0,0,0,0];
const t_red = [6,3,1.5,1,0.5,0.2,0,-0.2,-0.3,-0.4,-0.5,-0.5,-0.5,-0.5,-0.5,-0.5,-0.5,-0.5,-0.5,-0.5,-0.5,-0.5,-0.5,-0.5,-0.5,-0.5,-0.5,-0.5,-0.5,-0.5,-0.4,-0.4,-0.4,-0.4,-0.3,-0.3,-0.3,-0.3,-0.2,-0.2,-0.2,-0.2,-0.2,-0.2,-0.1,-0.1,-0.1,-0.1,-0.1,-0.1,-0.1,-0.1,-0.1,-0.1];
const t_obs = [5,2,1,0.5,0,-0.3,-0.5,-0.6,-0.7,-0.7,-0.8,-0.8,-0.8,-0.8,-0.8,-0.7,-0.7,-0.7,-0.7,-0.7,-0.7,-0.6,-0.6,-0.6,-0.6,-0.6,-0.5,-0.5,-0.5,-0.5,-0.5,-0.4,-0.4,-0.4,-0.4,-0.3,-0.3,-0.3,-0.3,-0.2,-0.2,-0.2,-0.2,-0.2,-0.2,-0.1,-0.1,-0.1,-0.1,-0.1,-0.1,-0.1,-0.1,-0.1];
// (u) sap snow depth
const u_x = [80, 10];
const u_lo  = [0,0,0,0,0.02,0.1,0.2,0.28,0.38,0.45,0.5,0.5,0.45,0.35,0.2,0.08,0,0,0];
const u_hi  = [0,0,0,0.02,0.15,0.3,0.45,0.55,0.65,0.72,0.82,0.85,0.8,0.95,0.65,0.45,0.25,0.05,0];
const u_blu = [0,0,0,0,0.07,0.19,0.31,0.41,0.51,0.59,0.65,0.68,0.64,0.57,0.44,0.29,0.14,0.02,0];
const u_org = [0,0,0,0,0.06,0.17,0.28,0.38,0.47,0.54,0.58,0.6,0.56,0.5,0.38,0.24,0.1,0.01,0];
const u_red = [0,0,0,0,0.06,0.17,0.28,0.38,0.48,0.55,0.6,0.62,0.58,0.52,0.4,0.26,0.12,0.02,0];
const u_obs = [0,0,0,0,0.08,0.2,0.32,0.42,0.52,0.6,0.66,0.7,0.65,0.58,0.45,0.3,0.15,0.02,0];
// (v) sap SWE
const v_x = [0, 10];
const v_lo  = [0,0,0,0,0,0,0,0,0,0,0,0,20,40,60,80,100,120,140,150,150,120,70,20,0,0,0,0,0,0,0,0,0,0,0,0,0];
const v_hi  = [0,0,0,0,0,0,0,0,0,10,30,50,80,110,140,170,200,230,260,290,300,270,200,110,40,0,0,0,0,0,0,0,0,0,0,0,0];
const v_blu = [0,0,0,0,0,0,0,0,0,5,15,30,50,75,100,125,150,170,192,208,218,205,155,85,22,0,0,0,0,0,0,0,0,0,0,0,0];
const v_org = [0,0,0,0,0,0,0,0,0,5,15,30,50,74,98,122,146,165,183,197,205,185,135,65,12,0,0,0,0,0,0,0,0,0,0,0,0];
const v_red = [0,0,0,0,0,0,0,0,0,5,15,30,50,75,100,125,150,170,190,205,215,200,150,80,20,0,0,0,0,0,0,0,0,0,0,0,0];
// (w) sap albedo
const w_x = [110, 5];
const w_lo  = [0.82,0.8,0.79,0.76,0.74,0.8,0.75,0.8,0.78,0.8,0.79,0.8,0.77,0.78,0.74,0.76,0.72,0.75,0.7,0.74,0.72,0.76,0.74,0.76,0.75,0.78,0.8];
const w_hi  = [0.85,0.85,0.84,0.85,0.85,0.84,0.85,0.85,0.84,0.85,0.85,0.84,0.85,0.84,0.85,0.84,0.84,0.84,0.84,0.84,0.83,0.84,0.84,0.84,0.84,0.85,0.84];
const w_blu = [0.83,0.82,0.82,0.82,0.83,0.82,0.82,0.83,0.82,0.82,0.82,0.82,0.82,0.82,0.81,0.81,0.8,0.8,0.79,0.79,0.79,0.79,0.8,0.8,0.81,0.82,0.82];
const w_org = [0.82,0.82,0.81,0.82,0.82,0.81,0.82,0.82,0.81,0.82,0.82,0.81,0.82,0.81,0.81,0.8,0.8,0.79,0.79,0.79,0.78,0.79,0.79,0.8,0.81,0.82,0.82];
const w_red = [0.83,0.83,0.82,0.83,0.83,0.82,0.83,0.83,0.82,0.83,0.83,0.82,0.83,0.82,0.82,0.81,0.81,0.8,0.8,0.8,0.79,0.8,0.8,0.81,0.82,0.83,0.83];
const w_obs = [0.84,0.87,0.78,0.8,0.84,0.82,0.85,0.83,0.84,0.82,0.84,0.83,0.83,0.82,0.8,0.81,0.78,0.76,0.74,0.72,0.7,0.67,0.64,0.6,0.62,0.62,0.52];
// (x) sap surface temperature
const x_x = [110, 5];
const x_lo  = [-9,-8,-10,-9,-11,-10,-12,-11,-12,-11,-13,-12,-11,-12,-10,-11,-10,-9,-10,-9,-8,-8,-7,-6,-6,-5,-3];
const x_hi  = [-4,-3.5,-5,-4.5,-5.5,-5,-6,-5.5,-6,-5.5,-6.5,-6,-5.5,-6,-5,-5.5,-5,-4.5,-5,-4.5,-3.5,-4,-3.5,-3,-2.5,-2,-0.5];
const x_blu = [-6.5,-6,-8,-7,-9,-8,-10,-9,-10,-9,-10.5,-10,-9,-10,-8,-9,-8,-7,-8,-7,-6,-6.5,-6,-5,-5,-4,-2];
const x_org = [-6,-5.5,-7.5,-6.5,-8.5,-7.5,-9.5,-8.5,-9.5,-8.5,-10,-9.5,-8.5,-9.5,-7.5,-8.5,-7.5,-6.5,-7.5,-6.5,-5.5,-6.5,-5.5,-4.5,-4.5,-3.5,-1.5];
const x_red = [-7,-6,-8,-7,-9,-8,-10,-9,-10,-9,-11,-10,-9,-10,-8,-9,-8,-7,-8,-7,-6,-7,-6,-5,-5,-4,-2];
const x_obs = [-6,-5,-7,-6,-8,-7,-9,-8,-9,-8,-10,-9,-8,-9,-7,-8,-7,-6,-7,-6,-5,-6,-5,-4,-4,-3,-1];
// (y) sap soil temperature (5 cm)
const y_x = [105, 5];
const y_lo  = [2.6,2.1,1.8,1.5,1.3,1.2,1,0.4,1,0.8,0.7,0.6,0.4,0.3,0.4,0.3,0.3,0.25,0.15,0.15,0.1,0.1,0.1,0.1,0.1,0.1,0.15,0.1,0.15,0.15];
const y_hi  = [3.2,2.7,2.4,2,1.8,1.7,1.5,1.4,1.5,1.3,1.2,1.1,0.9,0.8,0.9,0.8,0.8,0.7,0.6,0.6,0.5,0.5,0.5,0.5,0.5,0.5,0.6,0.5,0.6,0.6];
const y_blu = [2.8,2.3,2,1.7,1.5,1.4,1.2,0.5,1.2,1,0.9,0.8,0.6,0.5,0.6,0.5,0.5,0.45,0.35,0.35,0.3,0.3,0.3,0.3,0.3,0.3,0.35,0.3,0.35,0.35];
const y_org = [2.9,2.4,2.1,1.75,1.55,1.45,1.25,1.15,1.25,1.05,0.95,0.85,0.65,0.55,0.65,0.55,0.55,0.45,0.38,0.38,0.3,0.3,0.3,0.3,0.3,0.3,0.38,0.3,0.38,0.38];
const y_red = [3,2.5,2.2,1.8,1.6,1.5,1.3,1.2,1.3,1.1,1,0.9,0.7,0.6,0.7,0.6,0.6,0.5,0.4,0.4,0.3,0.3,0.3,0.3,0.3,0.3,0.4,0.3,0.4,0.4];

// ---------------- assemble ----------------
const PANELS = {
 a:[a_x,a_lo,a_hi,a_blu,a_org,a_red,a_obs], b:[b_x,b_lo,b_hi,b_blu,b_org,b_red,b_obs],
 c:[c_x,c_lo,c_hi,c_blu,c_org,c_red,c_obs], d:[d_x,d_lo,d_hi,d_blu,d_org,d_red,d_obs],
 e:[e_x,e_lo,e_hi,e_blu,e_org,e_red,e_obs], f:[f_x,f_lo,f_hi,f_blu,f_org,f_red,f_obs],
 g:[g_x,g_lo,g_hi,g_blu,g_org,g_red,g_obs], h:[h_x,h_lo,h_hi,h_blu,h_org,h_red,null],
 i:[i_x,i_lo,i_hi,i_blu,i_org,i_red,null], j:[j_x,j_lo,j_hi,j_blu,j_org,j_red,j_obs],
 k:[k_x,k_lo,k_hi,k_blu,k_org,k_red,k_obs], l:[l_x,l_lo,l_hi,l_blu,l_org,l_red,null],
 m:[m_x,m_lo,m_hi,m_blu,m_org,m_red,m_obs], n:[n_x,n_lo,n_hi,n_blu,n_org,n_red,n_obs],
 o:[o_x,o_lo,o_hi,o_blu,o_org,o_red,o_obs], p:[p_x,p_lo,p_hi,p_blu,p_org,p_red,p_obs],
 q:[q_x,q_lo,q_hi,q_blu,q_org,q_red,null], r:[r_x,r_lo,r_hi,r_blu,r_org,r_red,r_obs],
 s:[s_x,s_lo,s_hi,s_blu,s_org,s_red,s_obs], t:[t_x,t_lo,t_hi,t_blu,t_org,t_red,t_obs],
 u:[u_x,u_lo,u_hi,u_blu,u_org,u_red,u_obs], v:[v_x,v_lo,v_hi,v_blu,v_org,v_red,null],
 w:[w_x,w_lo,w_hi,w_blu,w_org,w_red,w_obs], x:[x_x,x_lo,x_hi,x_blu,x_org,x_red,x_obs],
 y:[y_x,y_lo,y_hi,y_blu,y_org,y_red,null]
};
// styling / layout
const OBS_BAND_W = {a:8, b:6, f:8, g:6, k:4, p:4, u:8};
const COL_L = [68, 355, 628, 904, 1182];
const COL_W = [218, 218, 217, 217, 216];
const ROW_T = 78, ROW_STEP = 173, ROW_H = 154;
const C_BAND = '#92c4e5', C_BLU = '#1f6fb0', C_ORG = '#dd8a2a', C_RED = '#d9262a', C_OBS = '#2c2c2c';
const AX = '#444444', GRIDC = '#dcdcdc';
const FONT = '"Liberation Sans", Arial, sans-serif';

const grids = [], xAxes = [], yAxes = [], series = [], graphics = [];
const fmt = v => String(+(+v).toFixed(2)).replace('-', '\u2212');

letters.forEach((L, gi) => {
  const r = Math.floor(gi / 5), c = gi % 5;
  const top = ROW_T + r * ROW_STEP, left = COL_L[c], w = COL_W[c];
  grids.push({left, top, width: w, height: ROW_H, show: true, borderColor: AX, borderWidth: 1.4, backgroundColor: 'transparent'});
  xAxes.push({gridIndex: gi, type: 'value', min: 0, max: 365, interval: 100, position: 'bottom',
    axisLine: {show: false, onZero: false}, axisLabel: {show: false},
    axisTick: {show: true, customValues: xMajor, length: 7, lineStyle: {color: AX, width: 1.2}},
    splitLine: {show: true, lineStyle: {color: GRIDC, width: 1}}});
  xAxes.push({gridIndex: gi, type: 'value', min: 0, max: 365, position: 'bottom',
    axisLine: {show: false, onZero: false}, axisLabel: {show: false},
    axisTick: {show: true, customValues: xMinor, length: 4, lineStyle: {color: AX, width: 1.2}},
    splitLine: {show: false}});
  yAxes.push({gridIndex: gi, type: 'value', min: yRange[c][0], max: yRange[c][1], position: 'left',
    axisLine: {show: false, onZero: false},
    axisTick: {show: true, customValues: yMajor[c], length: 6, lineStyle: {color: AX, width: 1.2}},
    axisLabel: {show: true, customValues: yMajor[c], formatter: fmt, margin: 13, fontSize: 17, color: '#1a1a1a', fontFamily: FONT},
    splitLine: {show: true, lineStyle: {color: GRIDC, width: 1}}});
  yAxes.push({gridIndex: gi, type: 'value', min: yRange[c][0], max: yRange[c][1], position: 'left',
    axisLine: {show: false, onZero: false}, axisLabel: {show: false},
    axisTick: {show: true, customValues: yMinor[c], length: 3.5, lineStyle: {color: AX, width: 1.1}},
    splitLine: {show: false}});

  const d = PANELS[L];
  const x0 = d[0][0], dx = d[0][1];
  const X = k => x0 + k * dx;
  const lo = d[1], hi = d[2];
  // contiguous runs of the band
  const segs = []; let cur = null;
  lo.forEach((v, k) => {
    if (v == null || hi[k] == null) { if (cur) { segs.push(cur); cur = null; } return; }
    if (!cur) cur = [];
    cur.push(k);
  });
  if (cur) segs.push(cur);
  series.push({type: 'custom', xAxisIndex: 2 * gi, yAxisIndex: 2 * gi, silent: true, clip: true, z: 1, animation: false,
    data: segs.map(s => [X(s[0]), lo[s[0]]]), encode: {x: 0, y: 1},
    renderItem: (params, api) => {
      const s = segs[params.dataIndex];
      const pts = [];
      s.forEach(k => pts.push(api.coord([X(k), hi[k]])));
      for (let j = s.length - 1; j >= 0; j--) pts.push(api.coord([X(s[j]), lo[s[j]]]));
      return {type: 'polygon', shape: {points: pts}, style: {fill: C_BAND, stroke: C_BAND, lineWidth: 0.6}};
    }});
  const base = {type: 'line', xAxisIndex: 2 * gi, yAxisIndex: 2 * gi, showSymbol: false, symbol: 'none', silent: true, connectNulls: false, animation: false};
  const obs = d[6];
  if (obs && OBS_BAND_W[L]) {
    series.push(Object.assign({}, base, {z: 2, data: obs.map((v, k) => [X(k), v]),
      lineStyle: {color: 'rgba(105,105,105,0.45)', width: OBS_BAND_W[L], cap: 'butt', join: 'round'}}));
  }
  [[d[3], C_BLU], [d[4], C_ORG], [d[5], C_RED], [obs, C_OBS]].forEach(([arr, col], si) => {
    if (!arr) return;
    series.push(Object.assign({}, base, {z: 3 + si, data: arr.map((v, k) => [X(k), v]),
      lineStyle: {color: col, width: 1.8, join: 'round'}}));
  });

  // panel texts
  const lines = periods[gi].split('\n');
  const ty = c < 2 ? [top + 19, top + 39.5] : [top + 111.5, top + 132.5];
  lines.forEach((t, li) => graphics.push({type: 'text', x: left + 10.5, y: ty[li], silent: true, z: 50,
    style: {text: t, font: '20px ' + FONT, fill: '#1a1a1a', textAlign: 'left', textVerticalAlign: 'middle'}}));
  graphics.push({type: 'text', x: left + w - 12, y: top + 19, silent: true, z: 50,
    style: {text: '(' + L + ')', font: 'bold 19px ' + FONT, fill: '#111', textAlign: 'right', textVerticalAlign: 'middle'}});
});

// column titles
colTitles.forEach((t, c) => {
  const parts = t.split('\n');
  const cx = COL_L[c] + COL_W[c] / 2;
  const ys = parts.length === 2 ? [29, 51] : [51];
  parts.forEach((p, i) => graphics.push({type: 'text', x: cx, y: ys[i], silent: true,
    style: {text: p, font: 'bold 19.5px ' + FONT, fill: '#111', textAlign: 'center', textVerticalAlign: 'middle'}}));
});
// row labels
sites.forEach((s, r) => graphics.push({type: 'text', x: 27, y: ROW_T + r * ROW_STEP + ROW_H / 2, rotation: Math.PI / 2, silent: true,
  style: {text: s, font: 'bold 19px ' + FONT, fill: '#111', textAlign: 'center', textVerticalAlign: 'middle'}}));
// red annotation marks (box runs off the right edge of the picture)
graphics.push({type: 'rect', silent: true, z: 100, shape: {x: 8, y: 11.5, width: 1420, height: 233},
  style: {fill: null, stroke: '#ff0000', lineWidth: 4}});
graphics.push({type: 'ellipse', silent: true, z: 100, shape: {cx: 774, cy: 145, rx: 47, ry: 53},
  style: {fill: null, stroke: '#ff0000', lineWidth: 3.5}});

const chart = echarts.init(document.getElementById('c'), null, {renderer: 'canvas'});
chart.setOption({animation: false, backgroundColor: '#fff', grid: grids, xAxis: xAxes, yAxis: yAxes, series, graphic: graphics});
</script></body></html>
